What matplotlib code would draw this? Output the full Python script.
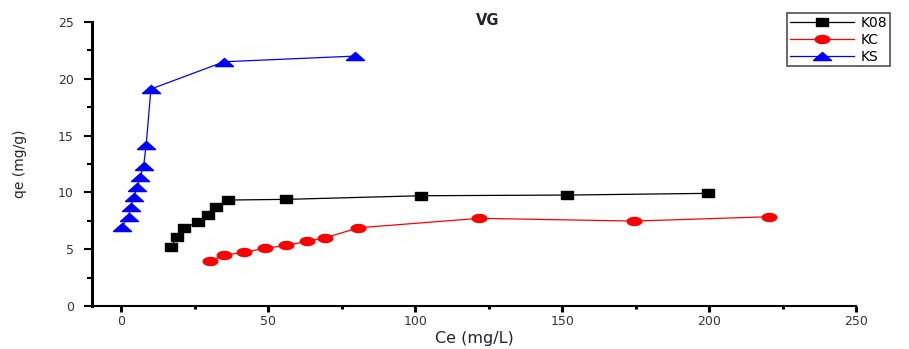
import numpy as np
import matplotlib.pyplot as plt
from matplotlib.ticker import MultipleLocator

plt.rcParams['font.family'] = ['DejaVu Sans']

# K08 isotherm
ce_k08 = [16.9, 18.9, 21.2, 26.0, 29.6, 32.3, 36.2, 56.0, 102.0, 151.6, 199.5]
qe_k08 = [5.2, 6.05, 6.84, 7.37, 8.0, 8.7, 9.33, 9.39, 9.71, 9.77, 9.92]

# KC isotherm
ce_kc = [30.3, 35.0, 41.8, 49.0, 56.1, 63.2, 69.4, 80.7, 121.8, 174.5, 220.3]
qe_kc = [3.96, 4.46, 4.75, 5.08, 5.34, 5.69, 6.01, 6.89, 7.72, 7.48, 7.86]

# KS isotherm
ce_ks = [0.2, 2.5, 3.3, 4.2, 5.5, 6.5, 7.6, 8.5, 10.1, 35.0, 79.6]
qe_ks = [7.0, 7.86, 8.74, 9.6, 10.5, 11.4, 12.3, 14.2, 19.1, 21.5, 22.0]

# wide, flat marker shapes
t = np.linspace(0, 2 * np.pi, 40)
m_rect = [(-1, -0.58), (1, -0.58), (1, 0.58), (-1, 0.58), (-1, -0.58)]
m_ellipse = list(zip(np.cos(t), 0.55 * np.sin(t)))
m_tri = [(-1, -0.45), (1, -0.45), (0, 0.45), (-1, -0.45)]

fig = plt.figure(figsize=(9.09, 3.49), dpi=100)
ax = fig.add_axes([0.101, 0.123, 0.841, 0.814])

ax.plot(ce_k08, qe_k08, color='black', lw=0.9, marker=m_rect, ms=9, label='K08')
ax.plot(ce_kc, qe_kc, color='red', lw=0.9, marker=m_ellipse, ms=10.5, label='KC')
ax.plot(ce_ks, qe_ks, color='blue', lw=0.9, marker=m_tri, ms=13, label='KS')

ax.set_xlim(-10, 250)
ax.set_ylim(0, 25)
ax.xaxis.set_major_locator(MultipleLocator(50))
ax.xaxis.set_minor_locator(MultipleLocator(25))
ax.yaxis.set_major_locator(MultipleLocator(5))
ax.yaxis.set_minor_locator(MultipleLocator(2.5))

for side in ['top', 'right']:
    ax.spines[side].set_visible(False)
ax.spines['left'].set_linewidth(2.2)
ax.spines['bottom'].set_linewidth(1.5)

ax.tick_params(axis='x', which='major', direction='out', length=4.5, width=2.2,
               labelsize=9, labelcolor='#333340', pad=2)
ax.tick_params(axis='x', which='minor', direction='out', length=2.5, width=2.2)
ax.tick_params(axis='y', which='major', direction='out', length=6, width=1.5,
               labelsize=9, labelcolor='#333340', pad=7)
ax.tick_params(axis='y', which='minor', direction='out', length=3.5, width=1.5)

ax.set_xlabel('Ce (mg/L)', fontsize=11.5, color='#222230', labelpad=2)
ax.set_ylabel('qe (mg/g)', fontsize=10, color='#222230', labelpad=22)
fig.text(0.537, 0.94, 'VG', fontsize=10.5, fontweight='bold', color='#222230',
         ha='center', va='center')

leg = fig.legend(loc='upper left', bbox_to_anchor=(0.866, 0.962),
                 fontsize=10, frameon=True, fancybox=False,
                 handlelength=4.6, handletextpad=0.5, borderpad=0.2,
                 labelspacing=0.2, borderaxespad=0)
leg.get_frame().set_edgecolor('#333333')
leg.get_frame().set_linewidth(1.3)

fig.savefig('out.png', dpi=100)
